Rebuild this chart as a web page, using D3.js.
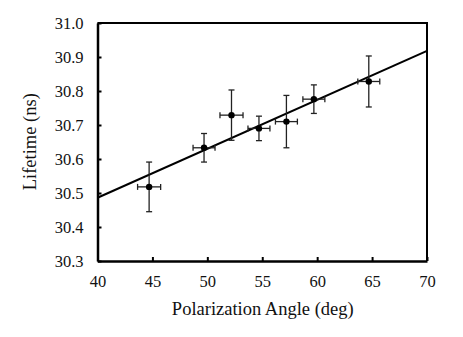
<!DOCTYPE html>
<html>
<head>
<meta charset="utf-8">
<script src="https://cdn.jsdelivr.net/npm/d3@7"></script>
<style>
  body { margin: 0; background: #fff; }
  svg { display: block; font-family: "Liberation Serif", "Times New Roman", serif; }
</style>
</head>
<body>
<svg id="chart"></svg>
<script>
// measured points
const angle    = [44.7, 49.7, 52.2, 54.7, 57.2, 59.7, 64.7];
const angleErr = [1.05, 1.0, 1.05, 1.0, 1.0, 1.0, 1.0];
const lifetime = [30.518, 30.633, 30.729, 30.690, 30.710, 30.776, 30.828];
const lifeErr  = [0.073, 0.042, 0.074, 0.036, 0.077, 0.042, 0.075];

// linear fit endpoints
const fitX = [40, 70];
const fitY = [30.486, 30.918];

const xTicks = [40, 45, 50, 55, 60, 65, 70];
const yTicks = [30.3, 30.4, 30.5, 30.6, 30.7, 30.8, 30.9, 31.0];

const width = 463, height = 337;
const margin = {top: 23, right: 36, bottom: 76, left: 97.5};
const innerW = width - margin.left - margin.right;
const innerH = height - margin.top - margin.bottom;

const svg = d3.select('#chart')
    .attr('width', width)
    .attr('height', height);

const chart = svg.append('g')
    .attr('transform', `translate(${margin.left}, ${margin.top})`);

const xscale = d3.scaleLinear().domain([40, 70]).range([0, innerW]);
const yscale = d3.scaleLinear().domain([30.3, 31.0]).range([innerH, 0]);

// frame (top + right)
chart.append('path')
    .attr('d', `M0,0H${innerW}V${innerH}`)
    .attr('fill', 'none')
    .attr('stroke', '#000')
    .attr('stroke-width', 2);

const xaxis = d3.axisBottom(xscale).tickValues(xTicks).tickSize(-4).tickPadding(14).tickSizeOuter(0);
const yaxis = d3.axisLeft(yscale).tickValues(yTicks).tickSize(-4).tickPadding(14)
    .tickSizeOuter(0).tickFormat(d3.format('.1f'));

const xg = chart.append('g')
    .attr('transform', `translate(0, ${innerH})`)
    .call(xaxis);
const yg = chart.append('g').call(yaxis);

[xg, yg].forEach(g => {
    g.select('.domain').attr('stroke-width', 2.5);
    g.selectAll('.tick line').attr('stroke-width', 2);
    g.selectAll('text')
        .attr('font-family', '"Liberation Serif", serif')
        .attr('font-size', '16.5px')
        .attr('fill', '#111');
});
xg.selectAll('text').attr('dy', '0.71em');

// fit line
chart.append('line')
    .attr('x1', xscale(fitX[0])).attr('y1', yscale(fitY[0]))
    .attr('x2', xscale(fitX[1])).attr('y2', yscale(fitY[1]))
    .attr('stroke', '#000')
    .attr('stroke-width', 2);

const data = angle.map((a, i) => ({x: a, xe: angleErr[i], y: lifetime[i], ye: lifeErr[i]}));
const cap = 3;

const pts = chart.selectAll('.pt')
    .data(data)
    .join('g')
    .attr('class', 'pt')
    .attr('stroke', '#222')
    .attr('stroke-width', 1.3);

pts.append('line')
    .attr('x1', d => xscale(d.x)).attr('x2', d => xscale(d.x))
    .attr('y1', d => yscale(d.y - d.ye)).attr('y2', d => yscale(d.y + d.ye));
pts.append('line')
    .attr('x1', d => xscale(d.x) - cap).attr('x2', d => xscale(d.x) + cap)
    .attr('y1', d => yscale(d.y + d.ye)).attr('y2', d => yscale(d.y + d.ye));
pts.append('line')
    .attr('x1', d => xscale(d.x) - cap).attr('x2', d => xscale(d.x) + cap)
    .attr('y1', d => yscale(d.y - d.ye)).attr('y2', d => yscale(d.y - d.ye));
pts.append('line')
    .attr('x1', d => xscale(d.x - d.xe)).attr('x2', d => xscale(d.x + d.xe))
    .attr('y1', d => yscale(d.y)).attr('y2', d => yscale(d.y));
pts.append('line')
    .attr('x1', d => xscale(d.x - d.xe)).attr('x2', d => xscale(d.x - d.xe))
    .attr('y1', d => yscale(d.y) - cap).attr('y2', d => yscale(d.y) + cap);
pts.append('line')
    .attr('x1', d => xscale(d.x + d.xe)).attr('x2', d => xscale(d.x + d.xe))
    .attr('y1', d => yscale(d.y) - cap).attr('y2', d => yscale(d.y) + cap);
pts.append('circle')
    .attr('cx', d => xscale(d.x))
    .attr('cy', d => yscale(d.y))
    .attr('r', 3.2)
    .attr('fill', '#000')
    .attr('stroke', 'none');

// axis titles
svg.append('text')
    .attr('x', 262.8)
    .attr('y', 315)
    .attr('text-anchor', 'middle')
    .style('font-size', '18.5px')
    .attr('fill', '#111')
    .text('Polarization Angle (deg)');

svg.append('text')
    .attr('transform', 'rotate(-90)')
    .attr('x', -141.7)
    .attr('y', 36)
    .attr('text-anchor', 'middle')
    .style('font-size', '18.5px')
    .attr('fill', '#111')
    .text('Lifetime (ns)');
</script>
</body>
</html>
